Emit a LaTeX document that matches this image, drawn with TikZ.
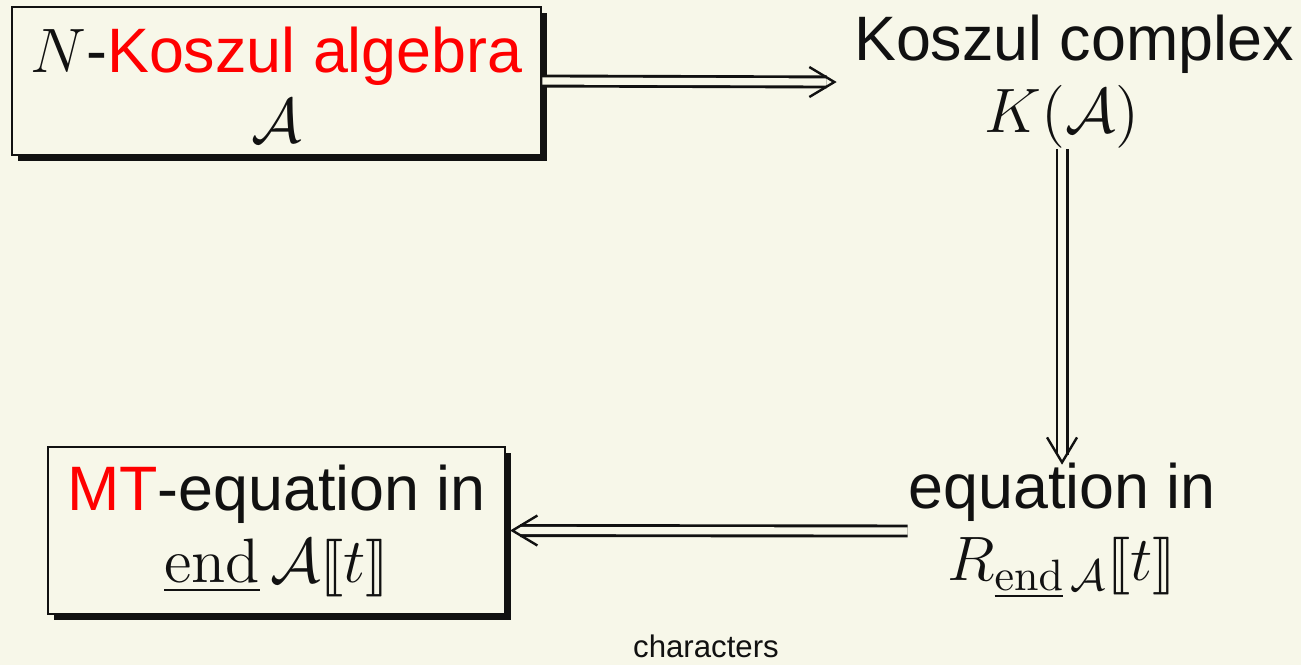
\RequirePackage{fix-cm}
\documentclass[tikz,border=0pt]{standalone}
\usepackage{amsmath}
\usepackage{stmaryrd}
\usepackage[no-math]{fontspec}
\setmainfont{Liberation Sans}
\usetikzlibrary{shadows}

\definecolor{paper}{RGB}{247,247,233}
\definecolor{ink}{RGB}{17,17,17}
\definecolor{hilite}{RGB}{255,0,0}

\begin{document}
\begin{tikzpicture}[x=0.25pt,y=-0.25pt,
  every node/.style={font=\fontsize{15.7}{18}\selectfont, text=ink},
  framed/.style={draw=ink, line width=0.7pt, fill=paper, align=center, inner sep=0pt,
    drop shadow={shadow xshift=1.5pt, shadow yshift=-1.5pt, fill=ink, opacity=1}},
  plain text/.style={align=center, inner sep=0pt},
  % double shaft of an implication; the open head is drawn by the pic below
  entails/.style={draw=ink, line width=0.72pt, double=paper, double distance=1.8pt,
    shorten >=1.9pt},
  barb/.style={draw=ink, line width=0.6pt, line join=miter},
  chevron/.pic={\draw[barb] (-6.25pt,3.75pt) -- (0pt,0pt) -- (-6.25pt,-3.75pt);},
]
% page background and frame of the picture
\fill[paper] (0,0) rectangle (1301,665);
\useasboundingbox (0,0) rectangle (1301,665);

% boxed statements on the left
\node[framed, minimum width=132.25pt, minimum height=37pt] (alg) at (276.5,81)
  {\rule{0pt}{13pt}$N$-\textcolor{hilite}{Koszul algebra}\\[-0.5pt] $\mathcal{A}$};
\node[framed, minimum width=114.25pt, minimum height=41.75pt] (mt) at (276.5,530.5)
  {\textcolor{hilite}{MT}-equation in\\ $\underline{\mathrm{end}}\,\mathcal{A}\llbracket t\rrbracket$};

% intermediate steps on the right
\node[plain text] (kc) at (1074,82) {Koszul complex\\ $K(\mathcal{A})$\hspace*{6pt}};
\node[plain text] (eq) at (1062,531)
  {equation in\\ $R_{\underline{\mathrm{end}}\,\mathcal{A}}\llbracket t\rrbracket$};

% footer
\node[font=\fontsize{7.8}{9}\selectfont, inner sep=0pt, anchor=base] (foot) at (706,657) {characters};

% implications
\coordinate (tipA) at ([xshift=-4.75pt]kc.west);
\coordinate (tipB) at (eq.north);
\coordinate (tipC) at ([xshift=1.5pt]mt.east);
\draw[entails] (alg.east) -- (tipA);
\pic at (tipA) {chevron};
\draw[entails] (kc.south -| eq.north) -- (tipB);
\pic[rotate=-90] at (tipB) {chevron};
\draw[entails] (eq.west) -- (tipC);
\pic[rotate=180] at (tipC) {chevron};
\end{tikzpicture}
\end{document}
